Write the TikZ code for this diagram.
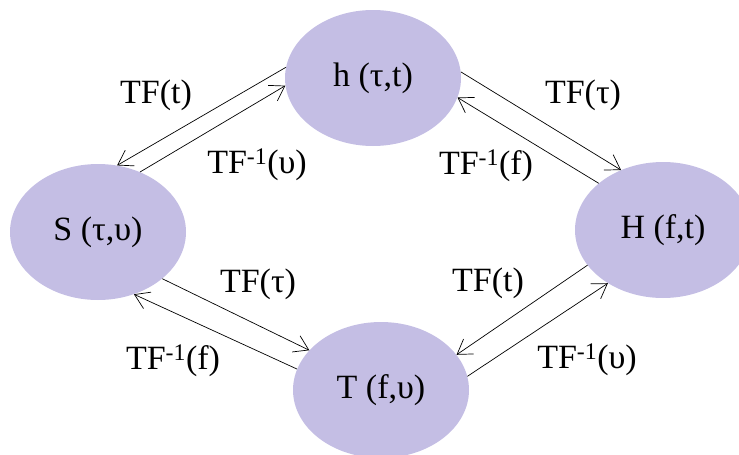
\documentclass[tikz,border=0pt]{standalone}
\usepackage{fontspec}
\setmainfont{Liberation Serif}
\usetikzlibrary{shapes.geometric,arrows.meta}
\definecolor{lavender}{HTML}{C4BEE4}
\begin{document}
\begin{tikzpicture}[x=1pt,y=-1pt,
    every node/.style={font=\fontsize{34}{40}\selectfont},
    state/.style={ellipse,fill=lavender,minimum width=176pt,minimum height=136pt,inner sep=0pt},
    tf/.style={-{Straight Barb[length=14pt,width=18pt]},line width=0.7pt}]
  \useasboundingbox (0,0) rectangle (739,455);
  \draw
    (373,78) node[state] (h){h (τ,t)}
    (98,232) node[state] (S){S (τ,υ)}
    (663,230) node[state] (H){H (f,t)}
    (381,390) node[state] (T){T (f,υ)};
  % transforms between the four forms
  \draw[tf] (h.173) -- (S.74);
  \draw[tf] (S.55) -- (h.185);
  \draw[tf] (h.4) -- (H.125);
  \draw[tf] (H.144) -- (h.347);
  \draw[tf] (S.324) -- (T.151);
  \draw[tf] (T.166) -- (S.300);
  \draw[tf] (H.205) -- (T.25);
  \draw[tf] (T.9) -- (H.224);
  % labels
  \node (hs) at (156,95) {TF(t)};
  \node (sh) at (257,165) {TF\textsuperscript{-1}(υ)};
  \node (hH) at (583,95) {TF(τ)};
  \node (Hh) at (486,166) {TF\textsuperscript{-1}(f)};
  \node (sT) at (258,284) {TF(τ)};
  \node (Ts) at (173,361) {TF\textsuperscript{-1}(f)};
  \node (HT) at (488,283) {TF(t)};
  \node (TH) at (587,360) {TF\textsuperscript{-1}(υ)};
\end{tikzpicture}
\end{document}
